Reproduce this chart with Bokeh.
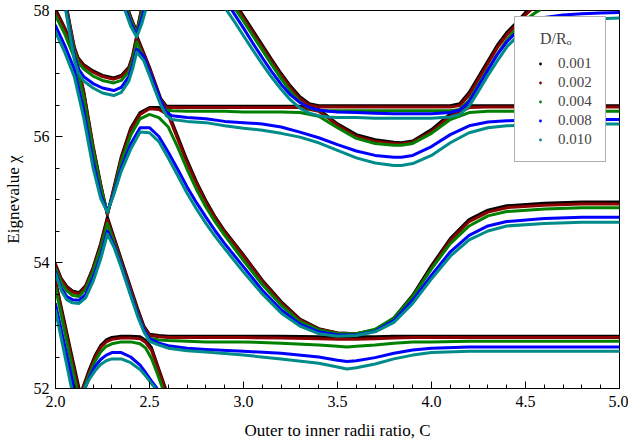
from bokeh.plotting import figure
from bokeh.models import Range1d, FixedTicker, Legend, LegendItem, NumeralTickFormatter
from bokeh.embed import file_html
from bokeh.resources import INLINE

series = ["0.001", "0.002", "0.004", "0.008", "0.010"]
colors = ["#000000", "#8B0000", "#008000", "#0000FF", "#008B8B"]

x_ticks = [2.0, 2.5, 3.0, 3.5, 4.0, 4.5, 5.0]
x_minor = [2.1, 2.2, 2.3, 2.4, 2.6, 2.7, 2.8, 2.9, 3.1, 3.2, 3.3, 3.4, 3.6, 3.7, 3.8, 3.9,
           4.1, 4.2, 4.3, 4.4, 4.6, 4.7, 4.8, 4.9]
y_ticks = [52, 54, 56, 58]
y_minor = [52.5, 53, 53.5, 54.5, 55, 55.5, 56.5, 57, 57.5]

# ---- branch S2 (steep lowest-left) ----
s2_x = [2.0, 2.04, 2.08, 2.12, 2.15]
s2_y = {
    "0.001": [53.71, 53.16, 52.61, 52.07, 51.66],
    "0.002": [53.68, 53.12, 52.56, 52.01, 51.60],
    "0.004": [53.60, 53.03, 52.46, 51.90, 51.50],
    "0.008": [53.34, 52.80, 52.26, 51.72, 51.30],
    "0.010": [53.24, 52.66, 52.08, 51.50, 51.08],
}

# ---- low arch ----
arch_x = [2.12, 2.15, 2.18, 2.21, 2.24, 2.27, 2.30, 2.35, 2.40, 2.45, 2.48, 2.51, 2.54, 2.57, 2.60]
arch_y = {
    "0.001": [51.80, 52.05, 52.30, 52.52, 52.68, 52.77, 52.81, 52.83, 52.83, 52.82, 52.76, 52.65, 52.39, 52.13, 51.87],
    "0.002": [51.78, 52.03, 52.27, 52.49, 52.65, 52.74, 52.78, 52.80, 52.80, 52.79, 52.73, 52.61, 52.36, 52.10, 51.85],
    "0.004": [51.75, 51.98, 52.22, 52.43, 52.58, 52.67, 52.71, 52.74, 52.74, 52.71, 52.64, 52.48, 52.25, 52.00, 51.75],
    "0.008": [51.70, 51.95, 52.17, 52.35, 52.46, 52.53, 52.57, 52.57, 52.50, 52.37, 52.25, 52.12, 52.00, 51.85, 51.70],
    "0.010": [51.75, 51.98, 52.15, 52.28, 52.38, 52.44, 52.47, 52.47, 52.41, 52.30, 52.20, 52.08, 51.97, 51.83, 51.70],
}

# ---- M1: left U -> crossing -> descent -> lower plateau ----
m1_x = [2.0, 2.03, 2.06, 2.09, 2.125, 2.16, 2.2, 2.24, 2.276, 2.31, 2.35, 2.4, 2.44, 2.47, 2.5, 2.55,
        2.6, 2.7, 2.8, 3.0, 3.2, 3.4, 3.5, 3.55, 3.6, 3.7, 3.8, 3.9, 4.0, 4.2, 4.5, 5.0]
m1_y = {
    "0.001": [53.97, 53.75, 53.62, 53.55, 53.52, 53.63, 53.92, 54.30, 54.72, 54.41, 54.05, 53.60, 53.24, 52.99, 52.86, 52.84,
              52.83, 52.83, 52.83, 52.83, 52.83, 52.82, 52.82, 52.81, 52.82, 52.82, 52.83, 52.83, 52.83, 52.83, 52.83, 52.83],
    "0.002": [53.95, 53.73, 53.60, 53.53, 53.50, 53.61, 53.90, 54.27, 54.68, 54.38, 54.02, 53.57, 53.21, 52.97, 52.84, 52.82,
              52.81, 52.81, 52.81, 52.81, 52.80, 52.79, 52.78, 52.78, 52.78, 52.79, 52.80, 52.81, 52.81, 52.81, 52.81, 52.81],
    "0.004": [53.90, 53.68, 53.55, 53.48, 53.46, 53.57, 53.86, 54.22, 54.62, 54.33, 53.97, 53.52, 53.16, 52.93, 52.80, 52.77,
              52.76, 52.75, 52.74, 52.74, 52.72, 52.69, 52.67, 52.66, 52.67, 52.69, 52.72, 52.74, 52.74, 52.75, 52.75, 52.75],
    "0.008": [53.85, 53.60, 53.46, 53.41, 53.40, 53.49, 53.76, 54.10, 54.50, 54.28, 53.95, 53.50, 53.15, 52.93, 52.79, 52.72,
              52.68, 52.64, 52.62, 52.59, 52.56, 52.50, 52.45, 52.43, 52.44, 52.49, 52.56, 52.61, 52.64, 52.66, 52.66, 52.66],
    "0.010": [53.82, 53.56, 53.41, 53.36, 53.35, 53.44, 53.70, 54.05, 54.45, 54.25, 53.92, 53.47, 53.12, 52.90, 52.75, 52.69,
              52.64, 52.60, 52.58, 52.53, 52.47, 52.40, 52.34, 52.31, 52.33, 52.39, 52.47, 52.53, 52.57, 52.59, 52.59, 52.59],
}

# ---- M2: top-left steep line -> V -> arch -> big valley -> plateau ----
m2_x = [2.0, 2.05, 2.1, 2.15, 2.2, 2.24, 2.276, 2.31, 2.35, 2.4, 2.45, 2.5, 2.55,
        2.6, 2.65, 2.7, 2.75, 2.8, 2.85, 2.9, 3.0, 3.1, 3.2, 3.3, 3.4, 3.5, 3.6, 3.7, 3.8, 3.9,
        4.0, 4.1, 4.2, 4.3, 4.4, 4.6, 4.8, 5.0]
m2_y = {
    "0.001": [58.02, 57.72, 57.35, 56.72, 55.85, 55.25, 54.76, 55.18, 55.68, 56.13, 56.38, 56.46, 56.46,
              56.38, 56.00, 55.62, 55.28, 54.98, 54.72, 54.50, 54.12, 53.72, 53.38, 53.10, 52.95, 52.88, 52.87, 52.93, 53.12, 53.48,
              53.95, 54.38, 54.68, 54.83, 54.90, 54.94, 54.96, 54.96],
    "0.002": [57.98, 57.70, 57.33, 56.70, 55.83, 55.23, 54.76, 55.16, 55.65, 56.10, 56.35, 56.44, 56.43,
              56.34, 55.96, 55.58, 55.25, 54.95, 54.70, 54.48, 54.10, 53.70, 53.36, 53.09, 52.94, 52.88, 52.87, 52.93, 53.11, 53.46,
              53.92, 54.35, 54.65, 54.80, 54.87, 54.91, 54.93, 54.93],
    "0.004": [57.92, 57.62, 57.25, 56.62, 55.78, 55.20, 54.78, 55.12, 55.60, 56.02, 56.28, 56.35, 56.30,
              56.15, 55.83, 55.48, 55.16, 54.88, 54.64, 54.43, 54.03, 53.65, 53.32, 53.06, 52.93, 52.87, 52.87, 52.94, 53.12, 53.46,
              53.90, 54.30, 54.58, 54.74, 54.81, 54.85, 54.87, 54.87],
    "0.008": [57.76, 57.44, 57.07, 56.42, 55.60, 55.08, 54.80, 55.10, 55.50, 55.88, 56.14, 56.14, 56.00,
              55.75, 55.48, 55.20, 54.95, 54.72, 54.50, 54.30, 53.93, 53.56, 53.25, 53.02, 52.90, 52.85, 52.85, 52.91, 53.08, 53.40,
              53.80, 54.17, 54.43, 54.58, 54.65, 54.70, 54.72, 54.72],
    "0.010": [57.66, 57.33, 56.95, 56.30, 55.50, 55.02, 54.80, 55.08, 55.45, 55.80, 56.07, 56.06, 55.92,
              55.66, 55.38, 55.10, 54.85, 54.62, 54.41, 54.22, 53.85, 53.50, 53.20, 52.99, 52.87, 52.83, 52.84, 52.90, 53.05, 53.35,
              53.74, 54.10, 54.36, 54.50, 54.58, 54.62, 54.64, 54.64],
}

# ---- M3: upper-left U -> peak -> upper plateau -> valley -> plateau ----
m3_x = [2.05, 2.08, 2.1, 2.12, 2.15, 2.2, 2.25, 2.31, 2.35, 2.39,
        2.41, 2.432, 2.47, 2.5, 2.53, 2.56, 2.59, 2.62,
        2.7, 2.8, 2.9, 3.0, 3.1, 3.2, 3.3,
        3.4, 3.5, 3.6, 3.7, 3.8, 3.84, 3.9,
        4.0, 4.1, 4.2, 4.3, 4.4, 4.6, 4.8, 5.0]
m3_y = {
    "0.001": [58.20, 57.72, 57.42, 57.25, 57.14, 57.04, 56.97, 56.93, 56.97, 57.10,
              57.28, 57.60, 57.32, 57.10, 56.85, 56.60, 56.48, 56.48,
              56.48, 56.48, 56.48, 56.48, 56.48, 56.48, 56.48,
              56.43, 56.20, 56.03, 55.95, 55.91, 55.90, 55.93,
              56.11, 56.36, 56.49, 56.49, 56.49, 56.49, 56.49, 56.49],
    "0.002": [58.18, 57.70, 57.40, 57.23, 57.12, 57.02, 56.95, 56.91, 56.95, 57.08,
              57.26, 57.56, 57.30, 57.08, 56.83, 56.58, 56.46, 56.46,
              56.46, 56.46, 56.46, 56.46, 56.46, 56.46, 56.46,
              56.40, 56.18, 56.00, 55.92, 55.89, 55.88, 55.91,
              56.08, 56.32, 56.46, 56.47, 56.47, 56.47, 56.47, 56.47],
    "0.004": [58.15, 57.66, 57.35, 57.18, 57.07, 56.96, 56.89, 56.85, 56.89, 57.03,
              57.20, 57.50, 57.25, 57.02, 56.77, 56.52, 56.42, 56.41,
              56.40, 56.40, 56.40, 56.39, 56.39, 56.39, 56.38,
              56.32, 56.14, 55.97, 55.89, 55.86, 55.86, 55.89,
              56.05, 56.27, 56.38, 56.40, 56.40, 56.40, 56.40, 56.40],
    "0.008": [58.12, 57.60, 57.28, 57.08, 56.95, 56.84, 56.77, 56.73, 56.78, 56.95,
              57.13, 57.39, 57.27, 57.03, 56.80, 56.57, 56.38, 56.33,
              56.30, 56.28, 56.24, 56.22, 56.20, 56.15, 56.07,
              55.98, 55.87, 55.77, 55.70, 55.67, 55.67, 55.70,
              55.84, 56.03, 56.17, 56.23, 56.25, 56.27, 56.27, 56.27],
    "0.010": [58.08, 57.55, 57.22, 57.02, 56.88, 56.77, 56.69, 56.65, 56.70, 56.88,
              57.07, 57.34, 57.20, 56.97, 56.73, 56.50, 56.33, 56.27,
              56.24, 56.22, 56.17, 56.13, 56.10, 56.05, 55.99,
              55.90, 55.78, 55.66, 55.58, 55.54, 55.54, 55.57,
              55.70, 55.90, 56.06, 56.14, 56.17, 56.19, 56.20, 56.20],
}

# ---- M4: small V at the top near C = 2.43 ----
m4_x = [2.37, 2.40, 2.432, 2.46, 2.49]
m4_y = {
    "0.001": [58.15, 57.90, 57.66, 58.06, 58.50],
    "0.002": [58.13, 57.88, 57.65, 58.03, 58.45],
    "0.004": [58.10, 57.85, 57.63, 57.98, 58.38],
    "0.008": [58.05, 57.80, 57.61, 57.88, 58.25],
    "0.010": [58.00, 57.75, 57.58, 57.80, 58.12],
}

# ---- M5: upper branch from top -> plateau -> rise ----
m5_x = [2.9, 2.95, 3.0, 3.05, 3.1, 3.15, 3.2, 3.25, 3.3, 3.35,
        3.4, 3.45, 3.5, 3.6, 3.7, 3.8, 3.9, 4.0, 4.1,
        4.15, 4.2, 4.25, 4.3, 4.35, 4.4, 4.45, 4.5, 4.55, 4.6,
        4.7, 4.8, 4.9, 5.0]
m5_y = {
    "0.001": [58.37, 58.14, 57.91, 57.68, 57.45, 57.22, 57.00, 56.80, 56.63, 56.52,
              56.49, 56.49, 56.49, 56.49, 56.49, 56.49, 56.49, 56.49, 56.49,
              56.52, 56.70, 56.95, 57.20, 57.45, 57.65, 57.80, 57.97, 58.12, 58.25,
              58.50, 58.70, 58.90, 59.10],
    "0.002": [58.34, 58.11, 57.88, 57.65, 57.42, 57.19, 56.97, 56.77, 56.60, 56.50,
              56.47, 56.47, 56.47, 56.47, 56.47, 56.47, 56.47, 56.47, 56.47,
              56.49, 56.66, 56.91, 57.16, 57.41, 57.61, 57.77, 57.93, 58.07, 58.20,
              58.45, 58.65, 58.85, 59.05],
    "0.004": [58.30, 58.05, 57.83, 57.60, 57.37, 57.14, 56.92, 56.72, 56.55, 56.45,
              56.41, 56.41, 56.41, 56.41, 56.41, 56.41, 56.41, 56.41, 56.41,
              56.43, 56.58, 56.83, 57.07, 57.31, 57.53, 57.71, 57.85, 57.96, 58.05,
              58.20, 58.30, 58.40, 58.50],
    "0.008": [58.20, 57.95, 57.72, 57.48, 57.25, 57.03, 56.83, 56.66, 56.54, 56.46,
              56.42, 56.40, 56.39, 56.38, 56.37, 56.36, 56.36, 56.36, 56.38,
              56.42, 56.55, 56.80, 57.05, 57.30, 57.50, 57.65, 57.76, 57.84, 57.89,
              57.93, 57.95, 57.96, 57.97],
    "0.010": [58.05, 57.83, 57.60, 57.37, 57.15, 56.94, 56.75, 56.58, 56.45, 56.37,
              56.33, 56.31, 56.30, 56.30, 56.29, 56.29, 56.29, 56.29, 56.31,
              56.35, 56.48, 56.72, 56.97, 57.20, 57.42, 57.57, 57.68, 57.75, 57.80,
              57.84, 57.86, 57.87, 57.88],
}

branches = [(s2_x, s2_y), (arch_x, arch_y), (m1_x, m1_y), (m2_x, m2_y),
            (m3_x, m3_y), (m4_x, m4_y), (m5_x, m5_y)]

FONT = "Liberation Serif"

p = figure(width=628, height=444, output_backend="svg", toolbar_location=None,
           x_range=Range1d(2.0, 5.0), y_range=Range1d(52.0, 58.0),
           min_border_left=53, min_border_right=9, min_border_top=10, min_border_bottom=56)
p.background_fill_color = "white"
p.border_fill_color = "white"
p.outline_line_color = "black"
p.outline_line_width = 1
p.xgrid.visible = False
p.ygrid.visible = False

items = []
for name, col in zip(series, colors):
    for bx, by in branches:
        p.line(bx, by[name], line_width=3, line_color=col, line_join="round", line_cap="round")
    dots = p.scatter(m1_x, m1_y[name], size=1, marker="circle", fill_color=col, line_color=None)
    items.append(LegendItem(label=name, renderers=[dots]))

# axes
p.xaxis.ticker = FixedTicker(ticks=x_ticks, minor_ticks=x_minor)
p.xaxis.formatter = NumeralTickFormatter(format="0.0")
p.yaxis.ticker = FixedTicker(ticks=y_ticks, minor_ticks=y_minor)
p.xaxis.axis_label = "Outer to inner radii ratio, C"
p.yaxis.axis_label = "Eignevalue χ"
for ax in (p.xaxis[0], p.yaxis[0]):
    ax.axis_line_color = "black"
    ax.major_tick_line_color = "black"
    ax.minor_tick_line_color = "black"
    ax.major_tick_in = 7
    ax.major_tick_out = 0
    ax.minor_tick_in = 4
    ax.minor_tick_out = 0
    ax.major_label_text_font = FONT
    ax.major_label_text_font_size = "16px"
    ax.major_label_text_color = "black"
    ax.axis_label_text_font = FONT
    ax.axis_label_text_font_size = "17px"
    ax.axis_label_text_font_style = "normal"
    ax.axis_label_text_color = "black"
p.xaxis.major_label_standoff = 7
p.yaxis.major_label_standoff = 6
p.xaxis.axis_label_standoff = 11
p.yaxis.axis_label_standoff = 8

legend = Legend(items=items, location=(459, 226))
legend.title = "\u00a0\u00a0\u00a0D/R\u2092"
legend.title_text_font = FONT
legend.title_text_font_size = "16px"
legend.title_text_font_style = "normal"
legend.title_standoff = 6
legend.label_text_font = FONT
legend.label_text_font_size = "15px"
legend.glyph_width = 24
legend.glyph_height = 7
legend.label_height = 18
legend.label_standoff = 6
legend.spacing = 1
legend.padding = 13
legend.margin = 0
legend.border_line_color = "#606060"
legend.border_line_width = 1
legend.background_fill_color = "white"
legend.background_fill_alpha = 1.0
p.add_layout(legend)

open("out.html", "w").write(file_html(p, INLINE))
